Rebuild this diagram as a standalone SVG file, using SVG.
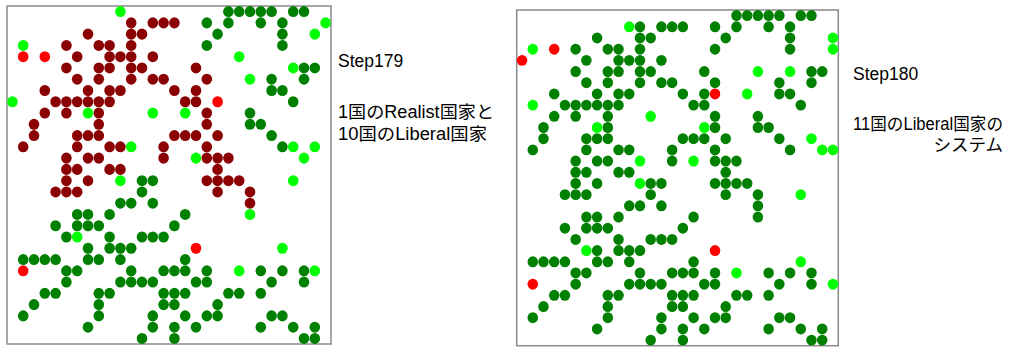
<svg xmlns="http://www.w3.org/2000/svg" width="1010" height="349" viewBox="0 0 1010 349">
<style>
.frame{fill:#fff;stroke:#8a8a8a;stroke-width:1.5}
.dg{fill:#008000}
.dr{fill:#8b0000}
.lg{fill:#00ff00}
.rd{fill:#ff0000}
text{font-family:"Liberation Sans","Noto Sans CJK JP",sans-serif;font-size:17.5px;fill:#000}
</style>
<rect width="1010" height="349" fill="#fff"/>
<g id="step179">
<rect class="frame" x="7" y="6" width="324" height="338"/>
<g transform="translate(12.4 11.6) scale(10.8 11.27)">
<g class="dg">
<circle cx="20" cy="0" r=".49"/><circle cx="21" cy="0" r=".49"/><circle cx="22" cy="0" r=".49"/><circle cx="23" cy="0" r=".49"/><circle cx="24" cy="0" r=".49"/><circle cx="26" cy="0" r=".49"/><circle cx="27" cy="0" r=".49"/>
<circle cx="18" cy="1" r=".49"/><circle cx="20" cy="1" r=".49"/><circle cx="23" cy="1" r=".49"/><circle cx="25" cy="1" r=".49"/>
<circle cx="19" cy="2" r=".49"/><circle cx="25" cy="2" r=".49"/>
<circle cx="18" cy="3" r=".49"/><circle cx="25" cy="3" r=".49"/>
<circle cx="27" cy="5" r=".49"/><circle cx="28" cy="5" r=".49"/>
<circle cx="24" cy="6" r=".49"/><circle cx="27" cy="6" r=".49"/>
<circle cx="24" cy="7" r=".49"/><circle cx="25" cy="7" r=".49"/>
<circle cx="26" cy="8" r=".49"/>
<circle cx="22" cy="9" r=".49"/>
<circle cx="22" cy="10" r=".49"/><circle cx="23" cy="10" r=".49"/>
<circle cx="24" cy="11" r=".49"/>
<circle cx="25" cy="12" r=".49"/>
<circle cx="12" cy="15" r=".49"/><circle cx="13" cy="15" r=".49"/>
<circle cx="12" cy="16" r=".49"/>
<circle cx="10" cy="17" r=".49"/><circle cx="11" cy="17" r=".49"/><circle cx="13" cy="17" r=".49"/>
<circle cx="6" cy="18" r=".49"/><circle cx="7" cy="18" r=".49"/><circle cx="9" cy="18" r=".49"/><circle cx="16" cy="18" r=".49"/>
<circle cx="4" cy="19" r=".49"/><circle cx="6" cy="19" r=".49"/><circle cx="7" cy="19" r=".49"/><circle cx="8" cy="19" r=".49"/><circle cx="15" cy="19" r=".49"/>
<circle cx="5" cy="20" r=".49"/><circle cx="9" cy="20" r=".49"/><circle cx="12" cy="20" r=".49"/><circle cx="13" cy="20" r=".49"/><circle cx="14" cy="20" r=".49"/>
<circle cx="7" cy="21" r=".49"/><circle cx="9" cy="21" r=".49"/><circle cx="10" cy="21" r=".49"/><circle cx="11" cy="21" r=".49"/>
<circle cx="1" cy="22" r=".49"/><circle cx="2" cy="22" r=".49"/><circle cx="3" cy="22" r=".49"/><circle cx="4" cy="22" r=".49"/><circle cx="7" cy="22" r=".49"/><circle cx="8" cy="22" r=".49"/><circle cx="10" cy="22" r=".49"/><circle cx="16" cy="22" r=".49"/>
<circle cx="5" cy="23" r=".49"/><circle cx="6" cy="23" r=".49"/><circle cx="11" cy="23" r=".49"/><circle cx="14" cy="23" r=".49"/><circle cx="15" cy="23" r=".49"/><circle cx="16" cy="23" r=".49"/><circle cx="18" cy="23" r=".49"/><circle cx="23" cy="23" r=".49"/><circle cx="25" cy="23" r=".49"/><circle cx="27" cy="23" r=".49"/>
<circle cx="5" cy="24" r=".49"/><circle cx="10" cy="24" r=".49"/><circle cx="11" cy="24" r=".49"/><circle cx="12" cy="24" r=".49"/><circle cx="13" cy="24" r=".49"/><circle cx="17" cy="24" r=".49"/><circle cx="18" cy="24" r=".49"/><circle cx="24" cy="24" r=".49"/><circle cx="27" cy="24" r=".49"/>
<circle cx="3" cy="25" r=".49"/><circle cx="4" cy="25" r=".49"/><circle cx="8" cy="25" r=".49"/><circle cx="9" cy="25" r=".49"/><circle cx="14" cy="25" r=".49"/><circle cx="15" cy="25" r=".49"/><circle cx="16" cy="25" r=".49"/><circle cx="20" cy="25" r=".49"/><circle cx="21" cy="25" r=".49"/><circle cx="23" cy="25" r=".49"/>
<circle cx="2" cy="26" r=".49"/><circle cx="8" cy="26" r=".49"/><circle cx="14" cy="26" r=".49"/><circle cx="15" cy="26" r=".49"/><circle cx="19" cy="26" r=".49"/>
<circle cx="1" cy="27" r=".49"/><circle cx="8" cy="27" r=".49"/><circle cx="13" cy="27" r=".49"/><circle cx="16" cy="27" r=".49"/><circle cx="18" cy="27" r=".49"/><circle cx="19" cy="27" r=".49"/><circle cx="24" cy="27" r=".49"/><circle cx="25" cy="27" r=".49"/>
<circle cx="7" cy="28" r=".49"/><circle cx="13" cy="28" r=".49"/><circle cx="15" cy="28" r=".49"/><circle cx="17" cy="28" r=".49"/><circle cx="23" cy="28" r=".49"/><circle cx="26" cy="28" r=".49"/><circle cx="28" cy="28" r=".49"/>
<circle cx="12" cy="29" r=".49"/><circle cx="15" cy="29" r=".49"/><circle cx="27" cy="29" r=".49"/><circle cx="28" cy="29" r=".49"/>
</g>
<g class="dr">
<circle cx="11" cy="1" r=".49"/><circle cx="13" cy="1" r=".49"/><circle cx="14" cy="1" r=".49"/><circle cx="15" cy="1" r=".49"/>
<circle cx="7" cy="2" r=".49"/><circle cx="11" cy="2" r=".49"/><circle cx="12" cy="2" r=".49"/>
<circle cx="5" cy="3" r=".49"/><circle cx="8" cy="3" r=".49"/><circle cx="9" cy="3" r=".49"/><circle cx="11" cy="3" r=".49"/>
<circle cx="6" cy="4" r=".49"/><circle cx="9" cy="4" r=".49"/><circle cx="10" cy="4" r=".49"/><circle cx="11" cy="4" r=".49"/><circle cx="13" cy="4" r=".49"/>
<circle cx="5" cy="5" r=".49"/><circle cx="8" cy="5" r=".49"/><circle cx="9" cy="5" r=".49"/><circle cx="11" cy="5" r=".49"/><circle cx="12" cy="5" r=".49"/><circle cx="17" cy="5" r=".49"/>
<circle cx="6" cy="6" r=".49"/><circle cx="8" cy="6" r=".49"/><circle cx="11" cy="6" r=".49"/><circle cx="13" cy="6" r=".49"/><circle cx="14" cy="6" r=".49"/><circle cx="18" cy="6" r=".49"/>
<circle cx="3" cy="7" r=".49"/><circle cx="7" cy="7" r=".49"/><circle cx="9" cy="7" r=".49"/><circle cx="10" cy="7" r=".49"/><circle cx="15" cy="7" r=".49"/><circle cx="17" cy="7" r=".49"/>
<circle cx="4" cy="8" r=".49"/><circle cx="5" cy="8" r=".49"/><circle cx="6" cy="8" r=".49"/><circle cx="7" cy="8" r=".49"/><circle cx="8" cy="8" r=".49"/><circle cx="9" cy="8" r=".49"/><circle cx="16" cy="8" r=".49"/><circle cx="17" cy="8" r=".49"/>
<circle cx="3" cy="9" r=".49"/><circle cx="5" cy="9" r=".49"/><circle cx="8" cy="9" r=".49"/><circle cx="18" cy="9" r=".49"/>
<circle cx="2" cy="10" r=".49"/><circle cx="8" cy="10" r=".49"/><circle cx="18" cy="10" r=".49"/>
<circle cx="2" cy="11" r=".49"/><circle cx="6" cy="11" r=".49"/><circle cx="7" cy="11" r=".49"/><circle cx="8" cy="11" r=".49"/><circle cx="15" cy="11" r=".49"/><circle cx="16" cy="11" r=".49"/><circle cx="17" cy="11" r=".49"/><circle cx="19" cy="11" r=".49"/>
<circle cx="1" cy="12" r=".49"/><circle cx="6" cy="12" r=".49"/><circle cx="9" cy="12" r=".49"/><circle cx="10" cy="12" r=".49"/><circle cx="14" cy="12" r=".49"/><circle cx="18" cy="12" r=".49"/>
<circle cx="5" cy="13" r=".49"/><circle cx="7" cy="13" r=".49"/><circle cx="8" cy="13" r=".49"/><circle cx="14" cy="13" r=".49"/><circle cx="18" cy="13" r=".49"/><circle cx="19" cy="13" r=".49"/><circle cx="20" cy="13" r=".49"/>
<circle cx="5" cy="14" r=".49"/><circle cx="6" cy="14" r=".49"/><circle cx="9" cy="14" r=".49"/><circle cx="10" cy="14" r=".49"/><circle cx="19" cy="14" r=".49"/>
<circle cx="5" cy="15" r=".49"/><circle cx="7" cy="15" r=".49"/><circle cx="18" cy="15" r=".49"/><circle cx="19" cy="15" r=".49"/><circle cx="20" cy="15" r=".49"/><circle cx="21" cy="15" r=".49"/>
<circle cx="4" cy="16" r=".49"/><circle cx="5" cy="16" r=".49"/><circle cx="6" cy="16" r=".49"/><circle cx="19" cy="16" r=".49"/><circle cx="22" cy="16" r=".49"/>
<circle cx="22" cy="17" r=".49"/>
</g>
<g class="lg">
<circle cx="10" cy="0" r=".49"/><circle cx="29" cy="1" r=".49"/><circle cx="28" cy="2" r=".49"/><circle cx="1" cy="3" r=".49"/><circle cx="21" cy="4" r=".49"/><circle cx="26" cy="5" r=".49"/><circle cx="22" cy="6" r=".49"/><circle cx="0" cy="8" r=".49"/><circle cx="7" cy="9" r=".49"/><circle cx="13" cy="9" r=".49"/><circle cx="16" cy="9" r=".49"/><circle cx="11" cy="12" r=".49"/><circle cx="26" cy="12" r=".49"/><circle cx="28" cy="12" r=".49"/><circle cx="17" cy="13" r=".49"/><circle cx="27" cy="13" r=".49"/><circle cx="10" cy="15" r=".49"/><circle cx="26" cy="15" r=".49"/><circle cx="22" cy="18" r=".49"/><circle cx="6" cy="20" r=".49"/><circle cx="25" cy="21" r=".49"/><circle cx="21" cy="23" r=".49"/><circle cx="28" cy="23" r=".49"/>
</g>
<g class="rd">
<circle cx="1" cy="4" r=".49"/><circle cx="3" cy="4" r=".49"/><circle cx="19" cy="8" r=".49"/><circle cx="17" cy="21" r=".49"/><circle cx="1" cy="23" r=".49"/>
</g>
</g>
<text x="338" y="67">Step179</text>
<text x="338" y="118" textLength="156" lengthAdjust="spacingAndGlyphs">1国のRealist国家と</text>
<text x="338" y="140" textLength="149" lengthAdjust="spacingAndGlyphs">10国のLiberal国家</text>
</g>
<g id="step180">
<rect class="frame" x="516.7" y="10" width="321.6" height="335.7"/>
<g transform="translate(522.06 15.6) scale(10.72 11.19)">
<g class="dg">
<circle cx="20" cy="0" r=".49"/><circle cx="21" cy="0" r=".49"/><circle cx="22" cy="0" r=".49"/><circle cx="23" cy="0" r=".49"/><circle cx="24" cy="0" r=".49"/><circle cx="26" cy="0" r=".49"/><circle cx="27" cy="0" r=".49"/>
<circle cx="11" cy="1" r=".49"/><circle cx="13" cy="1" r=".49"/><circle cx="14" cy="1" r=".49"/><circle cx="15" cy="1" r=".49"/><circle cx="18" cy="1" r=".49"/><circle cx="20" cy="1" r=".49"/><circle cx="23" cy="1" r=".49"/><circle cx="25" cy="1" r=".49"/>
<circle cx="7" cy="2" r=".49"/><circle cx="11" cy="2" r=".49"/><circle cx="12" cy="2" r=".49"/><circle cx="19" cy="2" r=".49"/><circle cx="25" cy="2" r=".49"/>
<circle cx="5" cy="3" r=".49"/><circle cx="8" cy="3" r=".49"/><circle cx="9" cy="3" r=".49"/><circle cx="11" cy="3" r=".49"/><circle cx="18" cy="3" r=".49"/><circle cx="25" cy="3" r=".49"/>
<circle cx="6" cy="4" r=".49"/><circle cx="9" cy="4" r=".49"/><circle cx="10" cy="4" r=".49"/><circle cx="11" cy="4" r=".49"/><circle cx="13" cy="4" r=".49"/>
<circle cx="5" cy="5" r=".49"/><circle cx="8" cy="5" r=".49"/><circle cx="9" cy="5" r=".49"/><circle cx="11" cy="5" r=".49"/><circle cx="12" cy="5" r=".49"/><circle cx="17" cy="5" r=".49"/><circle cx="27" cy="5" r=".49"/><circle cx="28" cy="5" r=".49"/>
<circle cx="6" cy="6" r=".49"/><circle cx="8" cy="6" r=".49"/><circle cx="11" cy="6" r=".49"/><circle cx="13" cy="6" r=".49"/><circle cx="14" cy="6" r=".49"/><circle cx="18" cy="6" r=".49"/><circle cx="24" cy="6" r=".49"/><circle cx="27" cy="6" r=".49"/>
<circle cx="3" cy="7" r=".49"/><circle cx="7" cy="7" r=".49"/><circle cx="9" cy="7" r=".49"/><circle cx="10" cy="7" r=".49"/><circle cx="15" cy="7" r=".49"/><circle cx="17" cy="7" r=".49"/><circle cx="24" cy="7" r=".49"/><circle cx="25" cy="7" r=".49"/>
<circle cx="4" cy="8" r=".49"/><circle cx="5" cy="8" r=".49"/><circle cx="6" cy="8" r=".49"/><circle cx="7" cy="8" r=".49"/><circle cx="8" cy="8" r=".49"/><circle cx="9" cy="8" r=".49"/><circle cx="16" cy="8" r=".49"/><circle cx="17" cy="8" r=".49"/><circle cx="26" cy="8" r=".49"/>
<circle cx="3" cy="9" r=".49"/><circle cx="5" cy="9" r=".49"/><circle cx="8" cy="9" r=".49"/><circle cx="18" cy="9" r=".49"/><circle cx="22" cy="9" r=".49"/>
<circle cx="2" cy="10" r=".49"/><circle cx="8" cy="10" r=".49"/><circle cx="18" cy="10" r=".49"/><circle cx="22" cy="10" r=".49"/><circle cx="23" cy="10" r=".49"/>
<circle cx="2" cy="11" r=".49"/><circle cx="6" cy="11" r=".49"/><circle cx="7" cy="11" r=".49"/><circle cx="8" cy="11" r=".49"/><circle cx="15" cy="11" r=".49"/><circle cx="16" cy="11" r=".49"/><circle cx="17" cy="11" r=".49"/><circle cx="19" cy="11" r=".49"/><circle cx="24" cy="11" r=".49"/>
<circle cx="1" cy="12" r=".49"/><circle cx="6" cy="12" r=".49"/><circle cx="9" cy="12" r=".49"/><circle cx="10" cy="12" r=".49"/><circle cx="14" cy="12" r=".49"/><circle cx="18" cy="12" r=".49"/><circle cx="25" cy="12" r=".49"/>
<circle cx="5" cy="13" r=".49"/><circle cx="7" cy="13" r=".49"/><circle cx="8" cy="13" r=".49"/><circle cx="14" cy="13" r=".49"/><circle cx="18" cy="13" r=".49"/><circle cx="19" cy="13" r=".49"/><circle cx="20" cy="13" r=".49"/>
<circle cx="5" cy="14" r=".49"/><circle cx="6" cy="14" r=".49"/><circle cx="9" cy="14" r=".49"/><circle cx="10" cy="14" r=".49"/><circle cx="19" cy="14" r=".49"/>
<circle cx="5" cy="15" r=".49"/><circle cx="7" cy="15" r=".49"/><circle cx="12" cy="15" r=".49"/><circle cx="13" cy="15" r=".49"/><circle cx="18" cy="15" r=".49"/><circle cx="19" cy="15" r=".49"/><circle cx="20" cy="15" r=".49"/><circle cx="21" cy="15" r=".49"/>
<circle cx="4" cy="16" r=".49"/><circle cx="5" cy="16" r=".49"/><circle cx="6" cy="16" r=".49"/><circle cx="12" cy="16" r=".49"/><circle cx="19" cy="16" r=".49"/><circle cx="22" cy="16" r=".49"/>
<circle cx="10" cy="17" r=".49"/><circle cx="11" cy="17" r=".49"/><circle cx="13" cy="17" r=".49"/><circle cx="22" cy="17" r=".49"/>
<circle cx="6" cy="18" r=".49"/><circle cx="7" cy="18" r=".49"/><circle cx="9" cy="18" r=".49"/><circle cx="16" cy="18" r=".49"/><circle cx="22" cy="18" r=".49"/>
<circle cx="4" cy="19" r=".49"/><circle cx="6" cy="19" r=".49"/><circle cx="7" cy="19" r=".49"/><circle cx="8" cy="19" r=".49"/><circle cx="15" cy="19" r=".49"/>
<circle cx="5" cy="20" r=".49"/><circle cx="9" cy="20" r=".49"/><circle cx="12" cy="20" r=".49"/><circle cx="13" cy="20" r=".49"/><circle cx="14" cy="20" r=".49"/>
<circle cx="7" cy="21" r=".49"/><circle cx="9" cy="21" r=".49"/><circle cx="10" cy="21" r=".49"/><circle cx="11" cy="21" r=".49"/>
<circle cx="1" cy="22" r=".49"/><circle cx="2" cy="22" r=".49"/><circle cx="3" cy="22" r=".49"/><circle cx="4" cy="22" r=".49"/><circle cx="7" cy="22" r=".49"/><circle cx="8" cy="22" r=".49"/><circle cx="10" cy="22" r=".49"/><circle cx="16" cy="22" r=".49"/>
<circle cx="5" cy="23" r=".49"/><circle cx="6" cy="23" r=".49"/><circle cx="11" cy="23" r=".49"/><circle cx="14" cy="23" r=".49"/><circle cx="15" cy="23" r=".49"/><circle cx="16" cy="23" r=".49"/><circle cx="18" cy="23" r=".49"/><circle cx="23" cy="23" r=".49"/><circle cx="25" cy="23" r=".49"/><circle cx="27" cy="23" r=".49"/>
<circle cx="5" cy="24" r=".49"/><circle cx="10" cy="24" r=".49"/><circle cx="11" cy="24" r=".49"/><circle cx="12" cy="24" r=".49"/><circle cx="13" cy="24" r=".49"/><circle cx="17" cy="24" r=".49"/><circle cx="18" cy="24" r=".49"/><circle cx="24" cy="24" r=".49"/><circle cx="27" cy="24" r=".49"/>
<circle cx="3" cy="25" r=".49"/><circle cx="4" cy="25" r=".49"/><circle cx="8" cy="25" r=".49"/><circle cx="9" cy="25" r=".49"/><circle cx="14" cy="25" r=".49"/><circle cx="15" cy="25" r=".49"/><circle cx="16" cy="25" r=".49"/><circle cx="20" cy="25" r=".49"/><circle cx="21" cy="25" r=".49"/><circle cx="23" cy="25" r=".49"/>
<circle cx="2" cy="26" r=".49"/><circle cx="8" cy="26" r=".49"/><circle cx="14" cy="26" r=".49"/><circle cx="15" cy="26" r=".49"/><circle cx="19" cy="26" r=".49"/>
<circle cx="1" cy="27" r=".49"/><circle cx="8" cy="27" r=".49"/><circle cx="13" cy="27" r=".49"/><circle cx="16" cy="27" r=".49"/><circle cx="18" cy="27" r=".49"/><circle cx="19" cy="27" r=".49"/><circle cx="24" cy="27" r=".49"/><circle cx="25" cy="27" r=".49"/>
<circle cx="7" cy="28" r=".49"/><circle cx="13" cy="28" r=".49"/><circle cx="15" cy="28" r=".49"/><circle cx="17" cy="28" r=".49"/><circle cx="23" cy="28" r=".49"/><circle cx="26" cy="28" r=".49"/><circle cx="28" cy="28" r=".49"/>
<circle cx="12" cy="29" r=".49"/><circle cx="15" cy="29" r=".49"/><circle cx="27" cy="29" r=".49"/><circle cx="28" cy="29" r=".49"/>
</g>
<g class="lg">
<circle cx="10" cy="1" r=".49"/><circle cx="29" cy="2" r=".49"/><circle cx="1" cy="3" r=".49"/><circle cx="29" cy="3" r=".49"/><circle cx="22" cy="5" r=".49"/><circle cx="25" cy="5" r=".49"/><circle cx="21" cy="7" r=".49"/><circle cx="1" cy="8" r=".49"/><circle cx="12" cy="9" r=".49"/><circle cx="7" cy="10" r=".49"/><circle cx="17" cy="10" r=".49"/><circle cx="27" cy="11" r=".49"/><circle cx="28" cy="12" r=".49"/><circle cx="29" cy="12" r=".49"/><circle cx="11" cy="13" r=".49"/><circle cx="16" cy="13" r=".49"/><circle cx="11" cy="15" r=".49"/><circle cx="26" cy="16" r=".49"/><circle cx="6" cy="21" r=".49"/><circle cx="26" cy="22" r=".49"/><circle cx="20" cy="23" r=".49"/><circle cx="29" cy="24" r=".49"/>
</g>
<g class="rd">
<circle cx="3" cy="3" r=".49"/><circle cx="0" cy="4" r=".49"/><circle cx="18" cy="7" r=".49"/><circle cx="18" cy="21" r=".49"/><circle cx="1" cy="24" r=".49"/>
</g>
</g>
<text x="853" y="80">Step180</text>
<text x="853" y="130" textLength="150" lengthAdjust="spacingAndGlyphs">11国のLiberal国家の</text>
<text x="1003" y="151" text-anchor="end">システム</text>
</g>
</svg>
